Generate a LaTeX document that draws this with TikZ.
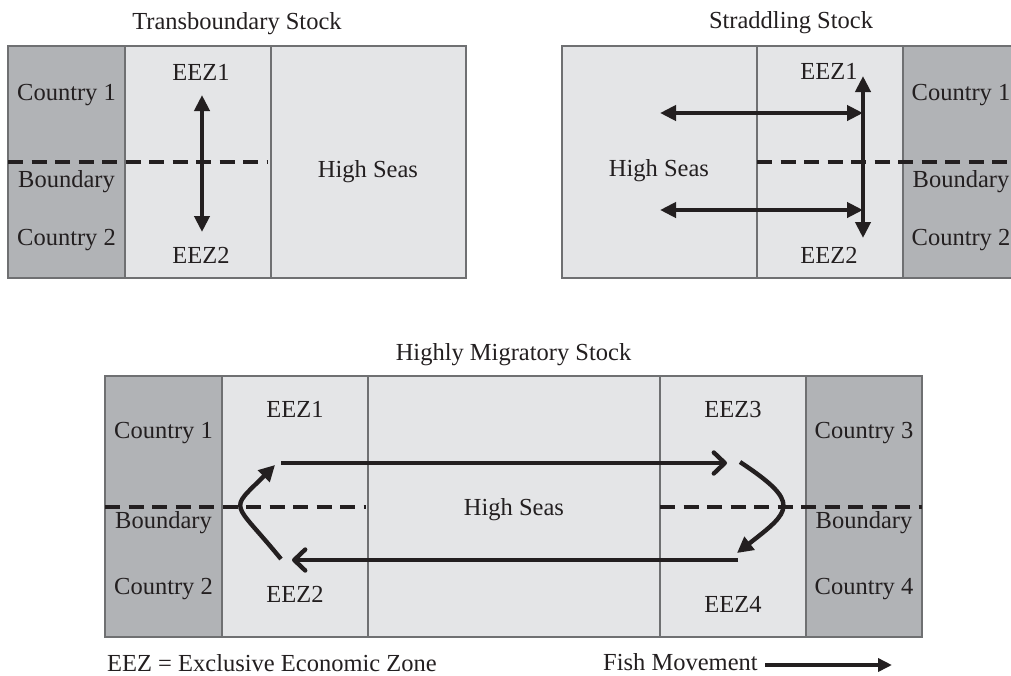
\documentclass[tikz,border=0pt]{standalone}
\usepackage{fontspec}
\setmainfont{Liberation Serif}
\usetikzlibrary{arrows.meta}
\definecolor{land}{HTML}{B1B3B6}
\definecolor{sea}{HTML}{E4E5E7}
\definecolor{rule}{HTML}{6F7072}
\definecolor{ink}{HTML}{231F20}

\begin{document}
\begin{tikzpicture}[x=1pt,y=-1pt,
  cell/.style={draw=rule, line width=2pt},
  boundaryline/.style={draw=ink, line width=4pt, dash pattern=on 15pt off 8.5pt},
  lbl/.style={font=\fontsize{24.5}{28}\selectfont, text=ink, inner sep=0pt, anchor=base},
  flow/.style={draw=ink, line width=4.4pt},
  solidtip/.style={-{Triangle[length=16pt,width=16pt]}},
  bothtips/.style={{Triangle[length=16pt,width=15pt]}-{Triangle[length=16pt,width=15pt]}},
  barbtip/.style={-{Straight Barb[length=11pt,width=21pt,line cap=round,line join=round]}}
]
\useasboundingbox (0,0) rectangle (1011,675);

% ---------- Transboundary stock ----------
\fill[land] (8,46) rectangle (125,278);
\fill[sea]  (125,46) rectangle (466,278);
\draw[cell] (8,46) rectangle (125,278);
\draw[cell] (125,46) rectangle (271,278);
\draw[cell] (271,46) rectangle (466,278);
\draw[boundaryline] (8,162) -- (268,162);

\node[lbl] (tbTitle) at (237,29) {Transboundary Stock};
\node[lbl] (tbC1) at (66.5,100) {Country 1};
\node[lbl] (tbBd) at (66.5,187) {Boundary};
\node[lbl] (tbC2) at (66.5,245) {Country 2};
\node[lbl] (tbE1) at (201,80) {EEZ1};
\node[lbl] (tbE2) at (201,263) {EEZ2};
\node[lbl] (tbHS) at (368,177) {High Seas};

\coordinate (tbUp) at (202,95);
\coordinate (tbDown) at (202,232);
\draw[flow, bothtips] (tbUp) -- (tbDown);

% ---------- Straddling stock ----------
\begin{scope}
\clip (0,0) rectangle (1011,675);
\fill[sea]  (562,46) rectangle (903,278);
\fill[land] (903,46) rectangle (1020,278);
\draw[cell] (562,46) rectangle (757,278);
\draw[cell] (757,46) rectangle (903,278);
\draw[cell] (903,46) rectangle (1020,278);
\draw[boundaryline] (757,162) -- (1020,162);

\node[lbl] (stTitle) at (791,28) {Straddling Stock};
\node[lbl] (stHS) at (659,176) {High Seas};
\node[lbl] (stE1) at (829,79) {EEZ1};
\node[lbl] (stE2) at (829,263) {EEZ2};
\node[lbl] (stC1) at (961,100) {Country 1};
\node[lbl] (stBd) at (961,187) {Boundary};
\node[lbl] (stC2) at (961,245) {Country 2};
\end{scope}

\coordinate (stUp) at (863,76);
\coordinate (stDown) at (863,238);
\coordinate (stAL) at (660,113);
\coordinate (stAR) at (863,113);
\coordinate (stBL) at (660,210);
\coordinate (stBR) at (863,210);
\draw[flow, bothtips] (stUp) -- (stDown);
\draw[flow, bothtips] (stAL) -- (stAR);
\draw[flow, bothtips] (stBL) -- (stBR);

% ---------- Highly migratory stock ----------
\fill[land] (105,376) rectangle (222,637);
\fill[sea]  (222,376) rectangle (806,637);
\fill[land] (806,376) rectangle (922,637);
\draw[cell] (105,376) rectangle (222,637);
\draw[cell] (222,376) rectangle (368,637);
\draw[cell] (368,376) rectangle (660,637);
\draw[cell] (660,376) rectangle (806,637);
\draw[cell] (806,376) rectangle (922,637);
\draw[boundaryline] (105,507) -- (366,507);
\draw[boundaryline] (660,507) -- (922,507);

\node[lbl] (hmTitle) at (513.5,360) {Highly Migratory Stock};
\node[lbl] (hmC1) at (163.5,438) {Country 1};
\node[lbl] (hmBdL) at (163.5,528) {Boundary};
\node[lbl] (hmC2) at (163.5,594) {Country 2};
\node[lbl] (hmE1) at (295,417) {EEZ1};
\node[lbl] (hmE2) at (295,602) {EEZ2};
\node[lbl] (hmHS) at (514,515) {High Seas};
\node[lbl] (hmE3) at (733,417) {EEZ3};
\node[lbl] (hmE4) at (733,612) {EEZ4};
\node[lbl] (hmC3) at (864,438) {Country 3};
\node[lbl] (hmBdR) at (864,528) {Boundary};
\node[lbl] (hmC4) at (864,594) {Country 4};

\coordinate (hmTopStart) at (281,463);
\coordinate (hmTopEnd) at (727,463);
\coordinate (hmTurnRStart) at (740,462);
\coordinate (hmTurnREnd) at (737,553);
\coordinate (hmBotStart) at (738,560);
\coordinate (hmBotEnd) at (292,560);
\coordinate (hmTurnLStart) at (281,559);
\coordinate (hmTurnLEnd) at (275,465);

\draw[flow, barbtip] (hmTopStart) -- (hmTopEnd);
\draw[flow, barbtip] (hmBotStart) -- (hmBotEnd);
\draw[flow, solidtip] (hmTurnRStart) .. controls (802,503) and (791,511) .. (hmTurnREnd);
\draw[flow, solidtip] (hmTurnLStart) .. controls (232,499) and (228,512) .. (hmTurnLEnd);

% ---------- Key ----------
\node[lbl, anchor=base west] (keyEEZ) at (107,671) {EEZ = Exclusive Economic Zone};
\node[lbl, anchor=base west] (keyFish) at (603,670) {Fish Movement};
\coordinate (keyArrowStart) at (765,665);
\coordinate (keyArrowEnd) at (892,665);
\draw[draw=ink, line width=3.8pt, -{Triangle[length=14pt,width=13pt]}] (keyArrowStart) -- (keyArrowEnd);
\end{tikzpicture}
\end{document}
